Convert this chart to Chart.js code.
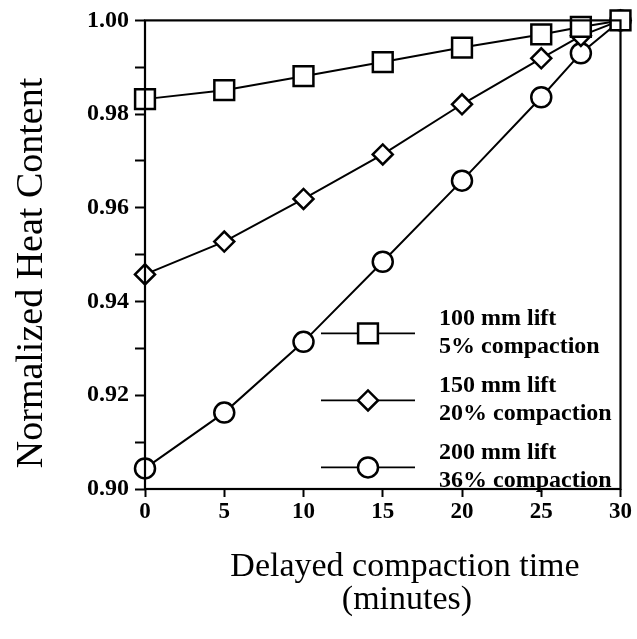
<!DOCTYPE html>
<html>
<head>
<meta charset="utf-8">
<script src="https://cdn.jsdelivr.net/npm/chart.js@4"></script>
<style>
  html, body { margin: 0; padding: 0; background: #fff; }
  #wrap { width: 637px; height: 639px; }
</style>
</head>
<body>
<div id="wrap"><canvas id="heatChart" width="637" height="639"></canvas></div>
<script>
// delayed compaction time (minutes)
const times = [0, 5, 10, 15, 20, 25, 27.5, 30];
// normalized heat content per lift
const lift100 = [0.9832, 0.9851, 0.9881, 0.9911, 0.9942, 0.9970, 0.9986, 1.000];
const lift150 = [0.9458, 0.9528, 0.9619, 0.9714, 0.9821, 0.9919, 0.9967, 1.000];
const lift200 = [0.9044, 0.9163, 0.9314, 0.9485, 0.9658, 0.9836, 0.9930, 1.000];
const seriesNames = [
  ['100 mm lift', '5% compaction'],
  ['150 mm lift', '20% compaction'],
  ['200 mm lift', '36% compaction']
];
const xTitle = ['Delayed compaction time', '(minutes)'];
const yTitle = 'Normalized Heat Content';

const serif = '"Liberation Serif", "Times New Roman", serif';

function makeSet(values, i, style, radius) {
  return {
    label: seriesNames[i].join(' '),
    data: times.map((t, k) => ({ x: t, y: values[k] })),
    borderColor: '#000',
    borderWidth: 2,
    pointStyle: style,
    pointRadius: radius,
    pointHoverRadius: radius,
    pointBackgroundColor: '#fff',
    pointBorderColor: '#000',
    pointBorderWidth: 2.5,
    tension: 0,
    clip: false
  };
}

// frame, legend and axis titles drawn by hand
const extras = {
  id: 'extras',
  afterDraw(chart) {
    const ctx = chart.ctx;
    const a = chart.chartArea;
    ctx.save();
    ctx.strokeStyle = '#000';
    ctx.lineWidth = 2.2;
    ctx.strokeRect(a.left, a.top, a.right - a.left, a.bottom - a.top);

    // legend
    chart.data.datasets.forEach(function(ds, i) {
      const y = a.top + 313 + i * 67;
      const x0 = a.left + 176;
      ctx.strokeStyle = '#000';
      ctx.lineWidth = 1.6;
      ctx.beginPath();
      ctx.moveTo(x0, y);
      ctx.lineTo(x0 + 94, y);
      ctx.stroke();
      ctx.fillStyle = '#fff';
      ctx.lineWidth = ds.pointBorderWidth;
      Chart.helpers.drawPoint(ctx, {
        pointStyle: ds.pointStyle, radius: ds.pointRadius, rotation: 0, borderWidth: ds.pointBorderWidth
      }, x0 + 47, y);
      ctx.fillStyle = '#000';
      ctx.font = 'bold 24px ' + serif;
      ctx.textAlign = 'left';
      ctx.textBaseline = 'alphabetic';
      ctx.fillText(seriesNames[i][0], x0 + 118, y - 8);
      ctx.fillText(seriesNames[i][1], x0 + 118, y + 20);
    });

    // axis titles
    ctx.fillStyle = '#000';
    ctx.font = '34px ' + serif;
    ctx.textAlign = 'center';
    ctx.fillText(xTitle[0], 405, 576);
    ctx.fillText(xTitle[1], 407, 609);

    ctx.translate(42, 273);
    ctx.rotate(-Math.PI / 2);
    ctx.font = '38px ' + serif;
    ctx.fillText(yTitle, 0, 0);
    ctx.restore();
  }
};

new Chart(document.getElementById('heatChart'), {
  type: 'line',
  data: {
    datasets: [
      makeSet(lift100, 0, 'rect', 14),
      makeSet(lift150, 1, 'rectRot', 10),
      makeSet(lift200, 2, 'circle', 10)
    ]
  },
  options: {
    responsive: false,
    animation: false,
    layout: { padding: { left: 0, top: 15, right: 13, bottom: 0 } },
    plugins: {
      legend: { display: false },
      tooltip: { enabled: false }
    },
    scales: {
      x: {
        type: 'linear',
        min: 0,
        max: 30,
        afterFit: function(scale) { scale.height = 150; },
        border: { display: false },
        grid: { drawOnChartArea: false, drawTicks: true, tickLength: 8, tickColor: '#000', tickWidth: 2 },
        ticks: {
          stepSize: 5,
          color: '#000',
          padding: 1,
          maxRotation: 0,
          font: { family: serif, size: 23, weight: 'bold' }
        }
      },
      y: {
        min: 0.90,
        max: 1.00,
        afterFit: function(scale) { scale.width = 145; },
        border: { display: false },
        grid: { drawOnChartArea: false, drawTicks: true, tickLength: 10, tickColor: '#000', tickWidth: 2 },
        ticks: {
          stepSize: 0.01,
          color: '#000',
          padding: 6,
          autoSkip: false,
          font: { family: serif, size: 24, weight: 'bold' },
          callback: function(v) {
            return Math.round(v * 100) % 2 === 0 ? v.toFixed(2) : '';
          }
        }
      }
    }
  },
  plugins: [extras]
});
</script>
</body>
</html>
